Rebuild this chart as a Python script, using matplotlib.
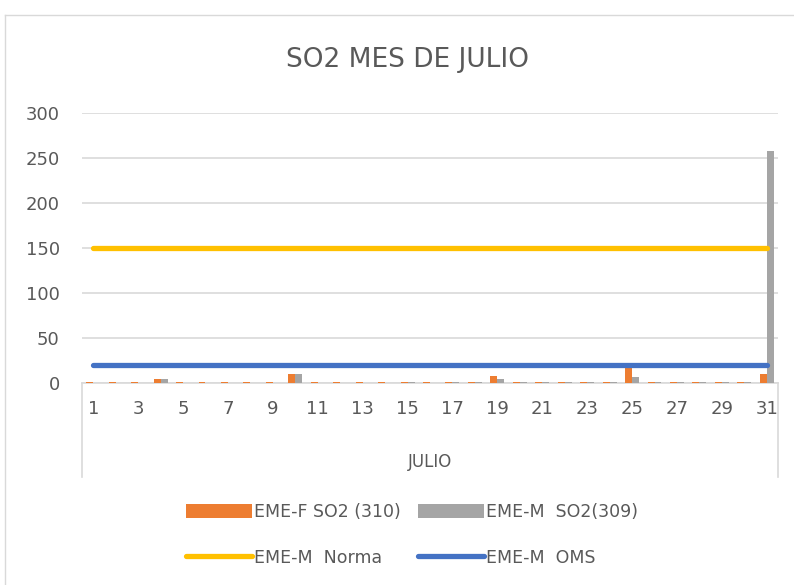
import matplotlib.pyplot as plt
import numpy as np

orange = '#ED7D31'
gray = '#A5A5A5'
yellow = '#FFC000'
blue = '#4472C4'
txt = '#595959'

days = list(range(1, 32))
so2_310 = [1.5, 1.5, 1.5, 4, 1.5, 1.5, 1.5, 1.5, 1.5, 10,
           1.5, 1.5, 1.5, 1.5, 1.5, 1.5, 1.5, 1.5, 8, 1.5,
           1.5, 1.5, 1.5, 1.5, 17, 1.5, 1.5, 1.5, 1.5, 1.5, 10]
so2_309 = [0, 0, 0, 4, 0, 0, 0, 0, 0, 9.5,
           0, 0, 0, 0, 1, 0, 1, 1, 5, 1,
           1, 1, 1, 1, 7, 1, 1, 1, 1, 1, 258]
norma = [150] * 31
oms = [20] * 31

W, H = 794, 585
fig = plt.figure(figsize=(W / 100, H / 100), dpi=100)
plt.rcParams['font.family'] = 'DejaVu Sans'

# outer chart border (top / left only visible)
fig.add_artist(plt.Line2D([5 / W, 5 / W], [0, 1 - 15 / H], color='#D9D9D9', lw=1))
fig.add_artist(plt.Line2D([5 / W, 1], [1 - 15 / H, 1 - 15 / H], color='#D9D9D9', lw=1))

left, right, top, bottom = 82, 778, 113, 383
ax = fig.add_axes([left / W, 1 - bottom / H, (right - left) / W, (bottom - top) / H])

x = np.arange(len(days))
bw = 0.31
b1 = ax.bar(x - bw / 2, so2_310, bw, color=orange, zorder=3)
b2 = ax.bar(x + bw / 2, so2_309, bw, color=gray, zorder=3)
l1, = ax.plot(x, norma, color=yellow, lw=3.8, solid_capstyle='round', zorder=4)
l2, = ax.plot(x, oms, color=blue, lw=3.8, solid_capstyle='round', zorder=4)

ax.set_xlim(-0.5, len(days) - 0.5)
ax.set_ylim(0, 300)
ax.set_yticks(range(0, 301, 50))
ax.yaxis.grid(True, color='#D9D9D9', lw=1.2)
ax.set_axisbelow(True)
for s in ['top', 'right', 'left']:
    ax.spines[s].set_visible(False)
ax.spines['bottom'].set_color('#D9D9D9')
ax.spines['bottom'].set_linewidth(1.2)
ax.tick_params(axis='y', length=0, labelsize=13, labelcolor=txt, pad=16)
ax.set_xticks(x[::2])
ax.set_xticklabels([str(d) for d in days[::2]])
ax.tick_params(axis='x', length=0, labelsize=13, labelcolor=txt, pad=12)

# category group box lines
for xp in [left, right]:
    fig.add_artist(plt.Line2D([xp / W, xp / W], [1 - bottom / H, 1 - 477 / H], color='#D9D9D9', lw=1.2))

fig.text(430 / W, 1 - 462 / H, 'JULIO', ha='center', va='center', fontsize=12, color=txt)
fig.text(408 / W, 1 - 60 / H, 'SO2 MES DE JULIO', ha='center', va='center', fontsize=19, color=txt)

# legend filled column-wise: row 1 bars, row 2 lines
fig.legend([b1, l1, b2, l2],
           ['EME-F SO2 (310)', 'EME-M  Norma', 'EME-M  SO2(309)', 'EME-M  OMS'],
           loc='center', bbox_to_anchor=(412 / W, 1 - 535 / H), ncol=2,
           frameon=False, fontsize=12.5, labelcolor=txt, handlelength=3.8,
           handleheight=0.9, handletextpad=0.1, columnspacing=1.0, labelspacing=1.6)

fig.savefig('out.png', dpi=100)
